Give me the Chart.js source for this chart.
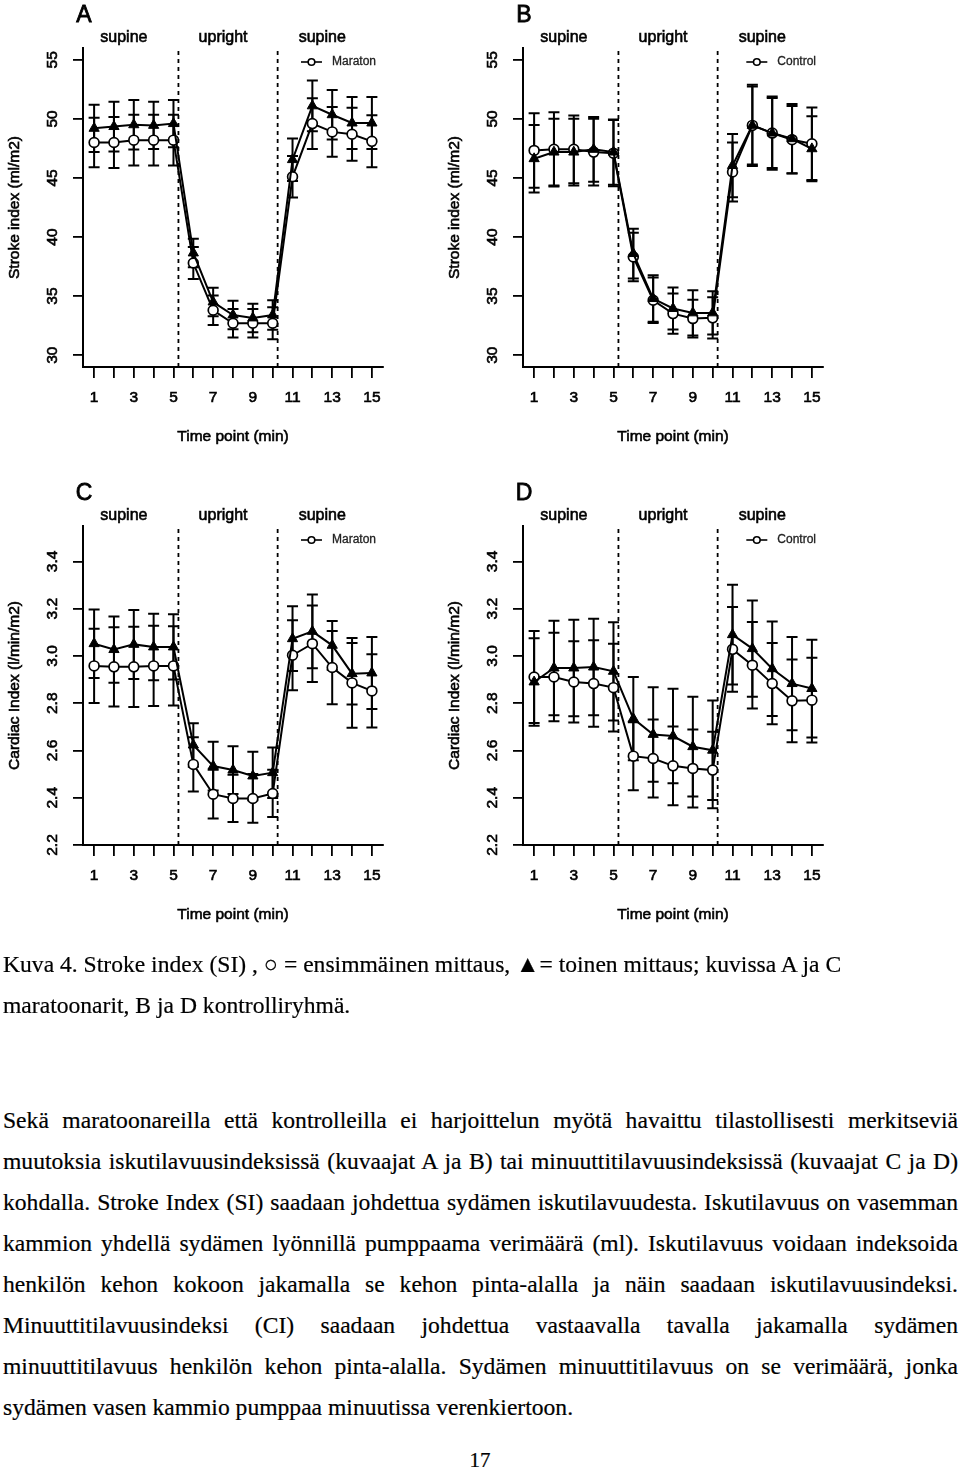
<!DOCTYPE html>
<html>
<head>
<meta charset="utf-8">
<script src="https://cdn.jsdelivr.net/npm/chart.js@4.4.1/dist/chart.umd.min.js"></script>
<style>
  body { margin: 0; background: #fff; width: 960px; height: 1471px; position: relative; overflow: hidden; }
  .panel { position: absolute; width: 440px; height: 470px; }
  .txt { position: absolute; left: 3px; width: 955px; font-family: "Liberation Serif", "Times New Roman", serif;
         font-size: 23.6px; line-height: 41px; color: #000; -webkit-text-stroke: 0.2px #000; }
  .txt div { white-space: nowrap; }
  .j { text-align: justify; text-align-last: justify; }
</style>
</head>
<body>
<div class="panel" style="left:0;top:0"><canvas id="chartA" width="440" height="470"></canvas></div>
<div class="panel" style="left:440px;top:0"><canvas id="chartB" width="440" height="470"></canvas></div>
<div class="panel" style="left:0;top:478px"><canvas id="chartC" width="440" height="470"></canvas></div>
<div class="panel" style="left:440px;top:478px"><canvas id="chartD" width="440" height="470"></canvas></div>

<div class="txt" style="top:944px">
  <div>Kuva 4. Stroke index (SI) , ○ = ensimmäinen mittaus, ▲= toinen mittaus; kuvissa A ja C</div>
  <div>maratoonarit, B ja D kontrolliryhmä.</div>
</div>

<div class="txt" style="top:1100px">
  <div class="j">Sekä maratoonareilla että kontrolleilla ei harjoittelun myötä havaittu tilastollisesti merkitseviä</div>
  <div class="j">muutoksia iskutilavuusindeksissä (kuvaajat A ja B) tai minuuttitilavuusindeksissä (kuvaajat C ja D)</div>
  <div class="j">kohdalla. Stroke Index (SI) saadaan johdettua sydämen iskutilavuudesta. Iskutilavuus on vasemman</div>
  <div class="j">kammion yhdellä sydämen lyönnillä pumppaama verimäärä (ml). Iskutilavuus voidaan indeksoida</div>
  <div class="j">henkilön kehon kokoon jakamalla se kehon pinta-alalla ja näin saadaan iskutilavuusindeksi.</div>
  <div class="j">Minuuttitilavuusindeksi (CI) saadaan johdettua vastaavalla tavalla jakamalla sydämen</div>
  <div class="j">minuuttitilavuus henkilön kehon pinta-alalla. Sydämen minuuttitilavuus on se verimäärä, jonka</div>
  <div>sydämen vasen kammio pumppaa minuutissa verenkiertoon.</div>
</div>

<div class="txt" style="top:1440px; text-align:center; left:0; width:960px; font-size:21px">17</div>

<script>
// time points and axis ticks
const timePoints = [1, 2, 3, 4, 5, 6, 7, 8, 9, 10, 11, 12, 13, 14, 15];
const siTicks = [30, 35, 40, 45, 50, 55];
const ciTicks = [2.2, 2.4, 2.6, 2.8, 3.0, 3.2, 3.4];
const phaseLabels = ['supine', 'upright', 'supine'];
const phaseCenters = [2.5, 7.5, 12.5];
const phaseBreaks = [5.25, 10.25];

// A: stroke index, marathon runners (circle = first, triangle = second measurement)
const siMaratonFirst = [48.0, 48.0, 48.2, 48.2, 48.2, 37.8, 33.8, 32.7, 32.7, 32.7, 45.1, 49.6, 48.9, 48.7, 48.1];
const siMaratonFirstErr = [2.1, 2.15, 2.15, 2.15, 2.15, 1.35, 1.25, 1.2, 1.2, 1.35, 1.75, 2.15, 2.1, 2.25, 2.2];
const siMaratonSecond = [49.2, 49.35, 49.5, 49.45, 49.6, 38.65, 34.5, 33.4, 33.15, 33.4, 46.55, 51.1, 50.35, 49.65, 49.65];
const siMaratonSecondErr = [2.0, 2.1, 2.1, 2.0, 2.0, 1.2, 1.2, 1.2, 1.2, 1.25, 1.8, 2.15, 2.1, 2.2, 2.2];

// B: stroke index, control group
const siControlFirst = [47.33, 47.42, 47.42, 47.19, 47.1, 38.31, 34.65, 33.52, 33.1, 33.16, 45.5, 49.45, 48.8, 48.24, 47.9];
const siControlFirstErr = [3.15, 3.15, 2.87, 2.82, 2.8, 2.05, 1.92, 1.7, 1.6, 1.75, 2.5, 3.44, 3.1, 2.85, 3.07];
const siControlSecond = [46.63, 47.19, 47.19, 47.42, 47.19, 38.6, 34.79, 33.95, 33.58, 33.58, 46.05, 49.45, 48.8, 48.32, 47.47];
const siControlSecondErr = [2.86, 2.82, 2.82, 2.73, 2.76, 2.1, 1.97, 1.78, 1.92, 1.83, 2.68, 3.3, 2.96, 2.95, 2.75];

// C: cardiac index, marathon runners
const ciMaratonFirst = [2.958, 2.954, 2.954, 2.958, 2.958, 2.541, 2.415, 2.397, 2.397, 2.418, 3.003, 3.052, 2.951, 2.886, 2.852];
const ciMaratonFirstErr = [0.157, 0.168, 0.17, 0.17, 0.168, 0.115, 0.103, 0.1, 0.103, 0.1, 0.148, 0.162, 0.155, 0.19, 0.155];
const ciMaratonSecond = [3.052, 3.027, 3.049, 3.038, 3.038, 2.623, 2.534, 2.517, 2.492, 2.506, 3.073, 3.104, 3.045, 2.925, 2.928];
const ciMaratonSecondErr = [0.145, 0.14, 0.146, 0.141, 0.138, 0.092, 0.103, 0.101, 0.103, 0.107, 0.137, 0.156, 0.103, 0.13, 0.152];

// D: cardiac index, control group
const ciControlFirst = [2.911, 2.911, 2.89, 2.883, 2.866, 2.576, 2.566, 2.535, 2.524, 2.517, 3.028, 2.961, 2.883, 2.81, 2.813];
const ciControlFirstErr = [0.195, 0.187, 0.172, 0.183, 0.186, 0.144, 0.165, 0.167, 0.165, 0.162, 0.179, 0.183, 0.172, 0.175, 0.179];
const ciControlSecond = [2.89, 2.949, 2.949, 2.953, 2.935, 2.735, 2.668, 2.661, 2.616, 2.601, 3.09, 3.031, 2.946, 2.883, 2.862];
const ciControlSecondErr = [0.185, 0.2, 0.204, 0.204, 0.208, 0.176, 0.2, 0.2, 0.211, 0.211, 0.211, 0.204, 0.2, 0.197, 0.207];

const FONT = '"Liberation Sans", Arial, Helvetica, sans-serif';

// text with a thin outline so it looks as heavy as the scanned figure
function heavyText(ctx, t, x, y, w) {
  ctx.lineWidth = w;
  ctx.strokeText(t, x, y);
  ctx.fillText(t, x, y);
}

// vertical error bars with caps, drawn under the markers
const errorBars = {
  id: 'errorBars',
  beforeDatasetsDraw(chart) {
    const ctx = chart.ctx;
    const xs = chart.scales.x, ys = chart.scales.y;
    ctx.save();
    ctx.strokeStyle = '#000';
    ctx.lineWidth = 2;
    chart.data.datasets.forEach(ds => {
      ds.errors.forEach((e, i) => {
        const x = xs.getPixelForValue(timePoints[i]);
        const y1 = ys.getPixelForValue(ds.data[i].y + e);
        const y2 = ys.getPixelForValue(ds.data[i].y - e);
        ctx.beginPath();
        ctx.moveTo(x, y1); ctx.lineTo(x, y2);
        ctx.moveTo(x - 5.5, y1); ctx.lineTo(x + 5.5, y1);
        ctx.moveTo(x - 5.5, y2); ctx.lineTo(x + 5.5, y2);
        ctx.stroke();
      });
    });
    ctx.restore();
  }
};

// dashed phase lines, phase names, panel letter, legend, y labels, titles
const panelDecor = {
  id: 'panelDecor',
  afterDraw(chart, args, opts) {
    const ctx = chart.ctx;
    const xs = chart.scales.x, ys = chart.scales.y;
    const a = chart.chartArea;
    ctx.save();
    ctx.strokeStyle = '#000';
    ctx.fillStyle = '#000';

    ctx.lineWidth = 1.8;
    ctx.setLineDash([4, 4]);
    phaseBreaks.forEach(v => {
      const x = xs.getPixelForValue(v);
      ctx.beginPath();
      ctx.moveTo(x, a.top + 3);
      ctx.lineTo(x, a.bottom);
      ctx.stroke();
    });
    ctx.setLineDash([]);

    ctx.font = '16px ' + FONT;
    ctx.textAlign = 'center';
    ctx.textBaseline = 'middle';
    phaseLabels.forEach((t, i) => heavyText(ctx, t, xs.getPixelForValue(phaseCenters[i]), a.top - 10, 0.6));

    ctx.font = '23px ' + FONT;
    heavyText(ctx, opts.letter, a.left + 1, a.top - 32, 0.8);

    // legend (only the open-circle series is listed)
    ctx.font = '12px ' + FONT;
    const tw = ctx.measureText(opts.legend).width;
    const tx = a.right - 7 - tw;
    const ly = a.top + 14;
    ctx.textAlign = 'left';
    ctx.fillStyle = '#222';
    ctx.strokeStyle = '#222';
    heavyText(ctx, opts.legend, tx, ly, 0.3);
    ctx.strokeStyle = '#000';
    ctx.lineWidth = 1.6;
    ctx.beginPath();
    ctx.moveTo(tx - 31, ly); ctx.lineTo(tx - 10, ly);
    ctx.stroke();
    ctx.beginPath();
    ctx.arc(tx - 20.5, ly, 3.3, 0, Math.PI * 2);
    ctx.fillStyle = '#fff';
    ctx.fill();
    ctx.stroke();

    // rotated y tick labels and titles
    ctx.fillStyle = '#000';
    ctx.font = '15.5px ' + FONT;
    ctx.textAlign = 'center';
    ys.ticks.forEach(t => {
      const y = ys.getPixelForValue(t.value);
      ctx.save();
      ctx.translate(a.left - 30, y);
      ctx.rotate(-Math.PI / 2);
      heavyText(ctx, t.value.toFixed(opts.digits), 0, 0, 0.6);
      ctx.restore();
    });
    ctx.save();
    ctx.translate(15, (a.top + a.bottom) / 2);
    ctx.rotate(-Math.PI / 2);
    heavyText(ctx, opts.yTitle, 0, 0, 0.6);
    ctx.restore();
    heavyText(ctx, 'Time point (min)', (a.left + a.right) / 2, a.bottom + 70, 0.6);
    ctx.restore();
  }
};

function makePanel(id, letter, legend, yTitle, yMin, yMax, yTicks, digits, first, firstErr, second, secondErr) {
  const toPts = arr => timePoints.map((t, i) => ({ x: t, y: arr[i] }));
  new Chart(document.getElementById(id), {
    type: 'line',
    data: {
      datasets: [
        {
          label: legend,
          data: toPts(first),
          errors: firstErr,
          order: 2,
          borderColor: '#000',
          borderWidth: 2,
          pointStyle: 'circle',
          pointRadius: 4.9,
          pointBorderWidth: 1.7,
          pointBorderColor: '#000',
          pointBackgroundColor: '#fff',
          tension: 0
        },
        {
          label: 'second',
          data: toPts(second),
          errors: secondErr,
          order: 1,
          borderColor: '#000',
          borderWidth: 2,
          pointStyle: 'triangle',
          pointRadius: 5.9,
          pointBorderWidth: 1,
          pointBorderColor: '#000',
          pointBackgroundColor: '#000',
          tension: 0
        }
      ]
    },
    options: {
      responsive: false,
      animation: false,
      events: [],
      layout: { padding: { top: 48, right: 57, left: 0, bottom: 0 } },
      scales: {
        x: {
          type: 'linear',
          min: 0.44,
          max: 15.56,
          afterBuildTicks: s => { s.ticks = timePoints.map(v => ({ value: v })); },
          afterFit: s => { s.height = 103; },
          ticks: {
            autoSkip: false,
            maxRotation: 0,
            padding: 10,
            color: '#000',
            textStrokeColor: '#000',
            textStrokeWidth: 0.6,
            font: { family: FONT, size: 15.5 },
            callback: v => (v % 2 === 1 ? String(v) : '')
          },
          grid: { drawOnChartArea: false, drawTicks: true, tickLength: 11, color: '#000', lineWidth: 1.8 },
          border: { display: true, color: '#000', width: 2 }
        },
        y: {
          type: 'linear',
          min: yMin,
          max: yMax,
          afterBuildTicks: s => { s.ticks = yTicks.map(v => ({ value: v })); },
          afterFit: s => { s.width = 83; },
          ticks: { display: false },
          grid: { drawOnChartArea: false, drawTicks: true, tickLength: 10, color: '#000', lineWidth: 1.8 },
          border: { display: true, color: '#000', width: 2 }
        }
      },
      plugins: {
        legend: { display: false },
        tooltip: { enabled: false },
        panelDecor: { letter, legend, yTitle, digits }
      }
    },
    plugins: [errorBars, panelDecor]
  });
}

makePanel('chartA', 'A', 'Maraton', 'Stroke index (ml/m2)', 29, 56, siTicks, 0,
  siMaratonFirst, siMaratonFirstErr, siMaratonSecond, siMaratonSecondErr);
makePanel('chartB', 'B', 'Control', 'Stroke index (ml/m2)', 29, 56, siTicks, 0,
  siControlFirst, siControlFirstErr, siControlSecond, siControlSecondErr);
makePanel('chartC', 'C', 'Maraton', 'Cardiac Index (l/min/m2)', 2.2, 3.55, ciTicks, 1,
  ciMaratonFirst, ciMaratonFirstErr, ciMaratonSecond, ciMaratonSecondErr);
makePanel('chartD', 'D', 'Control', 'Cardiac Index (l/min/m2)', 2.2, 3.55, ciTicks, 1,
  ciControlFirst, ciControlFirstErr, ciControlSecond, ciControlSecondErr);
</script>
</body>
</html>
